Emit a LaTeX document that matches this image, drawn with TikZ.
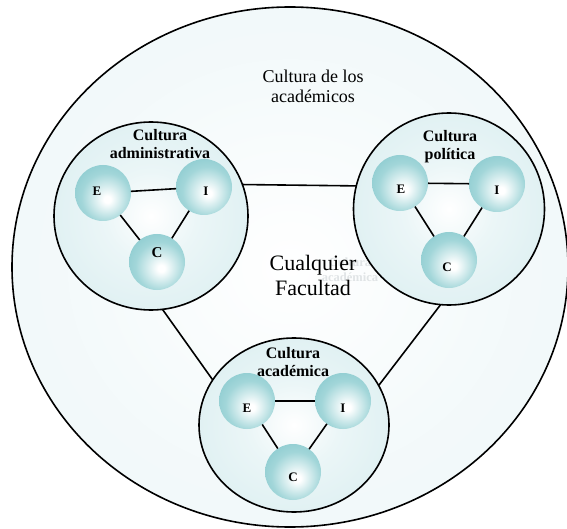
\documentclass[tikz,border=0pt]{standalone}
\usepackage{fontspec}
\setmainfont{Liberation Serif}
\usetikzlibrary{shapes.geometric}
\definecolor{balledge}{HTML}{86C8CD}
\definecolor{ballmid}{HTML}{A2D6D9}
\definecolor{grpedge}{HTML}{CDE8EB}
\definecolor{bigedge}{HTML}{E8F4F6}
\definecolor{ghost}{HTML}{E0E4E6}
\pgfdeclareradialshading{ballshade}{\pgfpoint{4bp}{-6bp}}{color(0bp)=(white); color(3bp)=(white); color(22bp)=(ballmid); color(36bp)=(balledge); color(70bp)=(balledge)}
\pgfdeclareradialshading{grpshade}{\pgfpoint{0bp}{0bp}}{color(0bp)=(white); color(12bp)=(white!60!grpedge); color(50bp)=(grpedge); color(70bp)=(grpedge)}
\pgfdeclareradialshading{bigshade}{\pgfpoint{0bp}{0bp}}{color(0bp)=(white); color(20bp)=(white!50!bigedge); color(50bp)=(bigedge); color(70bp)=(bigedge)}
\tikzset{
  link/.style={line width=1.6pt},
  ball/.style={circle, draw=none, shade, shading=ballshade, minimum size=56pt, inner sep=0pt, outer sep=0pt},
  grp/.style={ellipse, draw, line width=1.6pt, shade, shading=grpshade, inner sep=0pt, outer sep=0pt},
  bigc/.style={ellipse, draw, line width=1.6pt, shade, shading=bigshade, inner sep=0pt, outer sep=0pt},
  lbl/.style={font=\bfseries\fontsize{13}{13}\selectfont, inner sep=0pt},
  ttl/.style={font=\bfseries\fontsize{16}{18}\selectfont, align=center, inner sep=0pt},
}
\begin{document}
\begin{tikzpicture}[x=1pt,y=-1pt]
\useasboundingbox (0,0) rectangle (567,529);
\clip (0,0) rectangle (567,529);
\fill[white] (0,0) rectangle (567,529);
% outer ellipse
\node[bigc, minimum width=556pt, minimum height=520pt] (big) at (290,267) {};
\node[font=\fontsize{18}{20}\selectfont, align=center, inner sep=0pt] (bigtitle) at (313,86) {Cultura de los\\académicos};
\node[font=\bfseries\fontsize{12.5}{15}\selectfont, align=center, inner sep=0pt, text=ghost] (ghosttxt) at (350,270) {Cultura\\académica};
\node[font=\fontsize{22}{25}\selectfont, align=center, inner sep=0pt] (fac) at (313,275) {Cualquier\\Facultad};
% groups
\node[grp, minimum width=194pt, minimum height=188pt] (L) at (151,216) {};
\node[grp, minimum width=191pt, minimum height=192pt] (R) at (449,209) {};
\node[grp, minimum width=190pt, minimum height=174pt] (B) at (294,425) {};
\draw[link] (L.19) -- (R.166);
\draw[link] (L.-83) -- (B.151);
\draw[link] (R.-95) -- (B.25);
% titles
\node[ttl] (Lt) at (160,144.5) {Cultura\\administrativa};
\node[ttl] (Rt) at (450,147) {Cultura\\política};
\node[ttl] (Bt) at (293,362) {Cultura\\académica};
% balls: left
\node[ball] (LE) at (103,193) {};
\node[ball] (LI) at (204,187) {};
\node[ball] (LC) at (157,262) {};
% balls: right
\node[ball] (RE) at (400,183) {};
\node[ball] (RI) at (497,184) {};
\node[ball] (RC) at (449,260) {};
% balls: bottom
\node[ball] (BE) at (247,401) {};
\node[ball] (BI) at (343,401) {};
\node[ball] (BC) at (293,472) {};
% links inside groups
\draw[link] (LE) -- (LI);
\draw[link] (LE) -- (LC);
\draw[link] (LI) -- (LC);
\draw[link] (RE) -- (RI);
\draw[link] (RE) -- (RC);
\draw[link] (RI) -- (RC);
\draw[link] (BE) -- (BI);
\draw[link] (BE) -- (BC);
\draw[link] (BI) -- (BC);
% ball labels
\node[lbl] (LEt) at (97,191) {E};
\node[lbl] (LIt) at (206,191) {I};
\node[lbl, font=\bfseries\fontsize{15}{15}\selectfont] (LCt) at (157,253) {C};
\node[lbl] (REt) at (401,189) {E};
\node[lbl] (RIt) at (497,190) {I};
\node[lbl] (RCt) at (447,267) {C};
\node[lbl] (BEt) at (247,408) {E};
\node[lbl] (BIt) at (343,408) {I};
\node[lbl] (BCt) at (293,477) {C};
\end{tikzpicture}
\end{document}
